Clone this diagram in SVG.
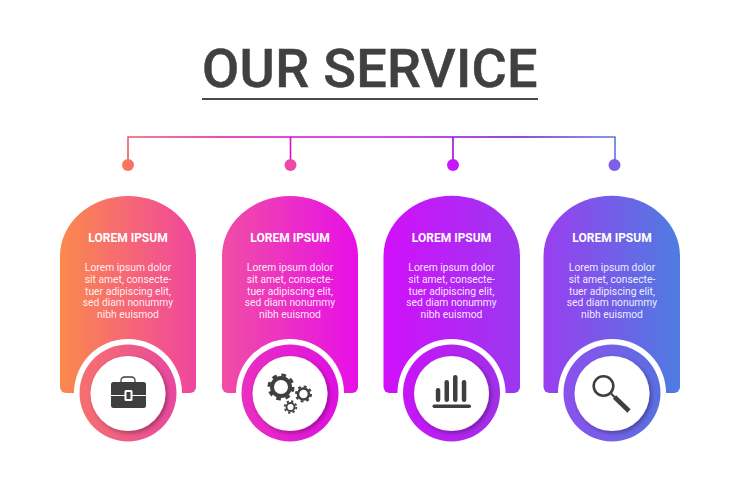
<svg xmlns="http://www.w3.org/2000/svg" width="740" height="493" viewBox="0 0 740 493">
<style>
.title{font:500 54px Roboto,"Liberation Sans",sans-serif;fill:#404040;text-anchor:middle;letter-spacing:.3px;stroke:#404040;stroke-width:.5px}
.h{font:700 12px Roboto,"Liberation Sans",sans-serif;fill:#fff;text-anchor:middle}
.b{font:400 10.300px Roboto,"Liberation Sans",sans-serif;fill:#fff;fill-opacity:.9;text-anchor:middle}
.card{fill:url(#band)}
.gap{fill:#fff}
.face{fill:#fff;filter:url(#soft)}
.ink{fill:#3f3f3f}
.line{fill:none;stroke:url(#wire);stroke-width:1.6}
.gear{fill:none;stroke:#3f3f3f}
</style>
<defs>
<linearGradient id="band" gradientUnits="userSpaceOnUse" x1="60" y1="0" x2="680" y2="0">
<stop offset="0" stop-color="#fb8a4c"/><stop offset=".22" stop-color="#f0459f"/><stop offset=".261" stop-color="#f04ea4"/><stop offset=".48" stop-color="#e70fe8"/><stop offset=".52" stop-color="#d20ffa"/><stop offset=".742" stop-color="#9a38f0"/><stop offset=".779" stop-color="#9a3ef0"/><stop offset="1" stop-color="#4d7de0"/>
</linearGradient>
<linearGradient id="r1"><stop offset="0" stop-color="#f6706e"/><stop offset="1" stop-color="#e8489f"/></linearGradient>
<linearGradient id="r2"><stop offset="0" stop-color="#ea2fc0"/><stop offset="1" stop-color="#df10e2"/></linearGradient>
<linearGradient id="r3"><stop offset="0" stop-color="#c815f8"/><stop offset="1" stop-color="#a030e8"/></linearGradient>
<linearGradient id="r4"><stop offset="0" stop-color="#8c50ee"/><stop offset="1" stop-color="#5a70e0"/></linearGradient>
<linearGradient id="wire" gradientUnits="userSpaceOnUse" x1="128" y1="0" x2="615" y2="0">
<stop offset="0" stop-color="#f0566a"/><stop offset=".2" stop-color="#e8109c"/><stop offset=".5" stop-color="#cc10f0"/><stop offset=".8" stop-color="#6a10d0"/><stop offset="1" stop-color="#5a78e0"/>
</linearGradient>
<linearGradient id="dots" gradientUnits="userSpaceOnUse" x1="122" y1="0" x2="621" y2="0">
<stop offset="0" stop-color="#fb7a55"/><stop offset=".02" stop-color="#f8706a"/><stop offset=".33" stop-color="#ef4aa5"/><stop offset=".66" stop-color="#c815fb"/><stop offset="1" stop-color="#7b62e8"/>
</linearGradient>
<filter id="soft" x="-30%" y="-30%" width="160%" height="160%"><feDropShadow dx="2" dy="2" stdDeviation="2" flood-color="#000" flood-opacity=".32"/></filter>
</defs>
<g id="title">
<text class="title" x="370" y="87">OUR SERVICE</text>
<rect x="202" y="98" width="336" height="2" fill="#4a4a4a"/>
</g>
<g id="connectors">
<path class="line" d="M128 165V137H615V165M290.500 137V165M453 137V165"/>
<g fill="url(#dots)"><circle cx="128" cy="165" r="6"/><circle cx="290.500" cy="165" r="6"/><circle cx="453" cy="165" r="6"/><circle cx="614.500" cy="165" r="6"/></g>
</g>
<g id="node1">
<path class="card" d="M60 256A68 60 0 0 1 196 256V387a6 6 0 0 1-6 6H66a6 6 0 0 1-6-6Z"/>
<circle class="gap" cx="128" cy="393" r="54"/><circle fill="url(#r1)" cx="128" cy="393" r="48.500"/><circle class="face" cx="128" cy="393.500" r="37.500"/>
<text class="h" x="128" y="242">LOREM IPSUM</text>
<text class="b" x="128" y="271">Lorem ipsum dolor</text><text class="b" x="128" y="283">sit amet, consecte-</text><text class="b" x="128" y="294.500">tuer adipiscing elit,</text><text class="b" x="128" y="306">sed diam nonummy</text><text class="b" x="128" y="318">nibh euismod</text>
<g id="icon-briefcase">
<path d="M121 382v-1.500a3.500 3.500 0 0 1 3.500-3.500h7a3.500 3.500 0 0 1 3.500 3.500v1.500" fill="none" stroke="#3f3f3f" stroke-width="1.300"/>
<rect class="ink" x="111" y="382" width="35" height="26" rx="2.500"/>
<path d="M111 395.500H146" stroke="#fff" stroke-width="1"/>
<rect x="124.500" y="390" width="8" height="11" rx="1.500" fill="#fff"/><rect class="ink" x="126.500" y="392" width="4" height="7"/>
</g>
</g>
<g id="node2">
<path class="card" d="M222 256A68 60 0 0 1 358 256V387a6 6 0 0 1-6 6H228a6 6 0 0 1-6-6Z"/>
<circle class="gap" cx="290" cy="393" r="54"/><circle fill="url(#r2)" cx="290" cy="393" r="48.500"/><circle class="face" cx="290" cy="393.500" r="37.500"/>
<text class="h" x="290" y="242">LOREM IPSUM</text>
<text class="b" x="290" y="271">Lorem ipsum dolor</text><text class="b" x="290" y="283">sit amet, consecte-</text><text class="b" x="290" y="294.500">tuer adipiscing elit,</text><text class="b" x="290" y="306">sed diam nonummy</text><text class="b" x="290" y="318">nibh euismod</text>
<g id="icon-gears">
<circle class="gear" cx="281" cy="387" r="9" stroke-width="4"/><circle class="gear" cx="281" cy="387" r="12" stroke-width="3" stroke-dasharray="4.700 4.725"/>
<circle class="gear" cx="303.500" cy="394" r="5.500" stroke-width="2.500"/><circle class="gear" cx="303.500" cy="394" r="7.500" stroke-width="2" stroke-dasharray="2.900 2.990"/>
<circle class="gear" cx="290.500" cy="407" r="4" stroke-width="1.800"/><circle class="gear" cx="290.500" cy="407" r="5.800" stroke-width="1.800" stroke-dasharray="2.200 2.350"/>
</g>
</g>
<g id="node3">
<path class="card" d="M383.500 256A68 60 0 0 1 520 256V387a6 6 0 0 1-6 6H389.500a6 6 0 0 1-6-6Z"/>
<circle class="gap" cx="451.500" cy="393" r="54"/><circle fill="url(#r3)" cx="451.500" cy="393" r="48.500"/><circle class="face" cx="451.500" cy="393.500" r="37.500"/>
<text class="h" x="451.500" y="242">LOREM IPSUM</text>
<text class="b" x="451.500" y="271">Lorem ipsum dolor</text><text class="b" x="451.500" y="283">sit amet, consecte-</text><text class="b" x="451.500" y="294.500">tuer adipiscing elit,</text><text class="b" x="451.500" y="306">sed diam nonummy</text><text class="b" x="451.500" y="318">nibh euismod</text>
<g id="icon-chart" class="ink">
<rect x="435.800" y="388" width="4.500" height="14" rx="2.200"/><rect x="444.500" y="380" width="4.500" height="22" rx="2.200"/><rect x="453" y="375" width="4.500" height="27" rx="2.200"/><rect x="461.800" y="380" width="4.500" height="22" rx="2.200"/><rect x="432.500" y="404.500" width="38.500" height="3.500" rx="1.700"/>
</g>
</g>
<g id="node4">
<path class="card" d="M543.500 256A68 60 0 0 1 680 256V387a6 6 0 0 1-6 6H549.500a6 6 0 0 1-6-6Z"/>
<circle class="gap" cx="612" cy="393" r="54"/><circle fill="url(#r4)" cx="612" cy="393" r="48.500"/><circle class="face" cx="612" cy="393.500" r="37.500"/>
<text class="h" x="612" y="242">LOREM IPSUM</text>
<text class="b" x="612" y="271">Lorem ipsum dolor</text><text class="b" x="612" y="283">sit amet, consecte-</text><text class="b" x="612" y="294.500">tuer adipiscing elit,</text><text class="b" x="612" y="306">sed diam nonummy</text><text class="b" x="612" y="318">nibh euismod</text>
<g id="icon-search">
<circle cx="603.500" cy="386" r="9.800" fill="none" stroke="#3f3f3f" stroke-width="2.600"/>
<path d="M611 393.500L615 397.500" stroke="#3f3f3f" stroke-width="2.200"/><path d="M614.500 397L629 411" stroke="#3f3f3f" stroke-width="4.600"/>
</g>
</g>
</svg>
